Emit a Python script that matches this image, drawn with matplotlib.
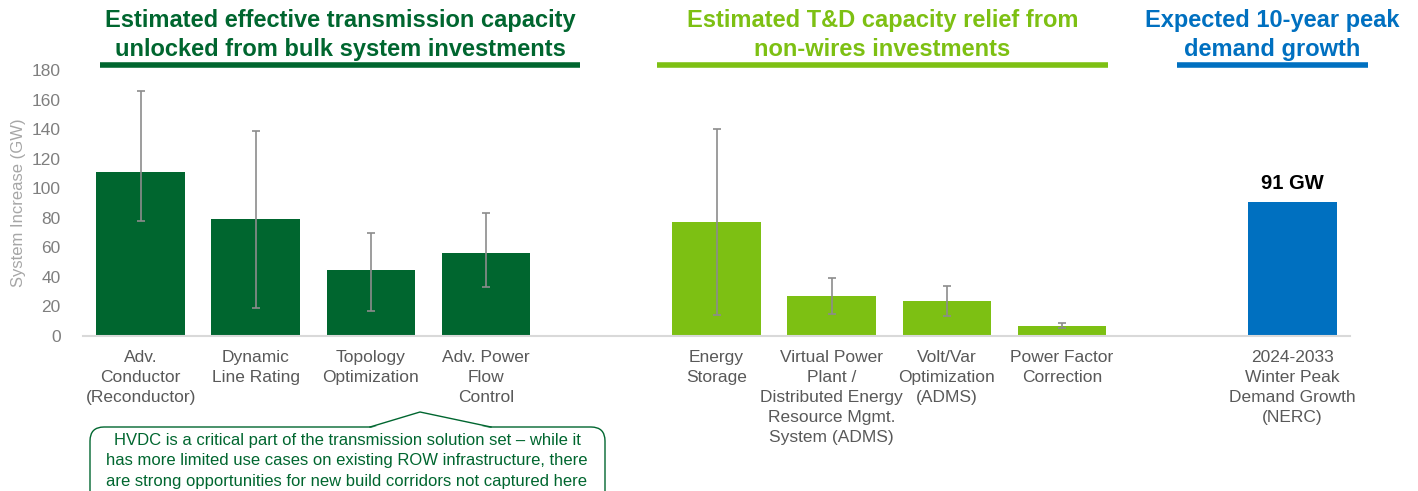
"""
Transmission capacity unlocked vs. 10-year peak demand growth
Grouped bar chart with error bars, header bands and an annotation callout.
"""

import matplotlib.pyplot as plt
import matplotlib.patches as mpatches
from matplotlib.lines import Line2D
import numpy as np

plt.rcParams['font.family'] = ['Liberation Sans', 'DejaVu Sans']

# ── Data ──────────────────────────────────────────────────────────────────────
bulk_labels = ["Adv.\nConductor\n(Reconductor)", "Dynamic\nLine Rating",
               "Topology\nOptimization", "Adv. Power\nFlow\nControl"]
bulk_values = [111, 79, 45, 56]
bulk_low    = [78, 19, 17, 33]
bulk_high   = [166, 139, 70, 83]

nwa_labels = ["Energy\nStorage",
              "Virtual Power\nPlant /\nDistributed Energy\nResource Mgmt.\nSystem (ADMS)",
              "Volt/Var\nOptimization\n(ADMS)", "Power Factor\nCorrection"]
nwa_values = [77, 27, 24, 7]
nwa_low    = [14, 15, 13.5, 5.5]
nwa_high   = [140, 39, 34, 8.5]

peak_labels = ["2024-2033\nWinter Peak\nDemand Growth\n(NERC)"]
peak_values = [91]

headers = ["Estimated effective transmission capacity\nunlocked from bulk system investments",
           "Estimated T&D capacity relief from\nnon-wires investments",
           "Expected 10-year peak\ndemand growth"]
note = ("HVDC is a critical part of the transmission solution set \u2013 while it\n"
        "has more limited use cases on existing ROW infrastructure, there\n"
        "are strong opportunities for new build corridors not captured here")

# ── Style ─────────────────────────────────────────────────────────────────────
DARK_GREEN  = "#00662F"
LIGHT_GREEN = "#7DC013"
BLUE        = "#0070C0"
ERR_GRAY    = "#8C8C8C"
LABEL_GRAY  = "#595959"

W, H = 1418, 491
fig = plt.figure(figsize=(W / 100, H / 100), dpi=100)
ax = fig.add_axes([83 / W, 1 - 336 / H, (1350 - 83) / W, (336 - 70) / H])

x_bulk = np.arange(len(bulk_values))
x_nwa  = np.arange(len(nwa_values)) + len(bulk_values) + 1
x_peak = np.arange(len(peak_values)) + x_nwa[-1] + 2

bar_w = 0.77
ax.bar(x_bulk, bulk_values, width=bar_w, color=DARK_GREEN, zorder=2)
ax.bar(x_nwa, nwa_values, width=bar_w, color=LIGHT_GREEN, zorder=2)
ax.bar(x_peak, peak_values, width=bar_w, color=BLUE, zorder=2)

for xs, v, lo, hi in [(x_bulk, bulk_values, bulk_low, bulk_high),
                      (x_nwa, nwa_values, nwa_low, nwa_high)]:
    v, lo, hi = np.array(v), np.array(lo), np.array(hi)
    ax.errorbar(xs, v, yerr=[v - lo, hi - v], fmt='none', ecolor=ERR_GRAY,
                elinewidth=1.2, capsize=3, capthick=1.2, zorder=3)

for xp, v in zip(x_peak, peak_values):
    ax.text(xp, v + 6, f"{v} GW", ha='center', va='bottom', fontsize=14.5,
            fontweight='bold', color='black')

ax.set_xlim(-0.5, x_peak[-1] + 0.5)
ax.set_ylim(0, 180)
ax.set_yticks(np.arange(0, 181, 20))
ax.set_xticks(np.concatenate([x_bulk, x_nwa, x_peak]))
ax.set_xticklabels(bulk_labels + nwa_labels + peak_labels, fontsize=12.5,
                   color=LABEL_GRAY, va='top')
for lbl in ax.get_xticklabels():
    lbl.set_linespacing(1.42)
ax.tick_params(axis='x', length=0, pad=10)
ax.tick_params(axis='y', length=0, labelsize=12.5, labelcolor="#7F7F7F", pad=16)
ax.set_ylabel("System Increase (GW)", fontsize=12, color="#A6A6A6", labelpad=4)
for s in ['top', 'right', 'left']:
    ax.spines[s].set_visible(False)
ax.spines['bottom'].set_color("#D9D9D9")
ax.spines['bottom'].set_linewidth(1.5)

# ── Overlay in pixel coordinates for headers and callout ─────────────────────
ov = fig.add_axes([0, 0, 1, 1], zorder=5)
ov.set_xlim(0, W)
ov.set_ylim(H, 0)
ov.axis('off')

header_spans = [(100, 580, DARK_GREEN), (657, 1108, LIGHT_GREEN), (1177, 1368, BLUE)]
for txt, (x0, x1, col) in zip(headers, header_spans):
    ov.text((x0 + x1) / 2, 35, txt, ha='center', va='center', fontsize=17,
            fontweight='bold', color=col, linespacing=1.3)
    ov.add_line(Line2D([x0, x1], [65, 65], color=col, lw=4, solid_capstyle='butt'))

box = mpatches.FancyBboxPatch((90, 427), 515, 80,
                              boxstyle="round,pad=0,rounding_size=14",
                              facecolor='white', edgecolor=DARK_GREEN, lw=1.0)
ov.add_patch(box)
ov.add_patch(mpatches.Polygon([(371, 428), (420, 412), (490, 428)], closed=True,
                              facecolor='white', edgecolor='none', zorder=3))
ov.add_line(Line2D([370, 420, 491], [427, 412, 427], color=DARK_GREEN, lw=1.0, zorder=4))
ov.text(347, 461, note, ha='center', va='center', fontsize=12, color=DARK_GREEN,
        linespacing=1.42)

fig.savefig("out.png", dpi=100)
